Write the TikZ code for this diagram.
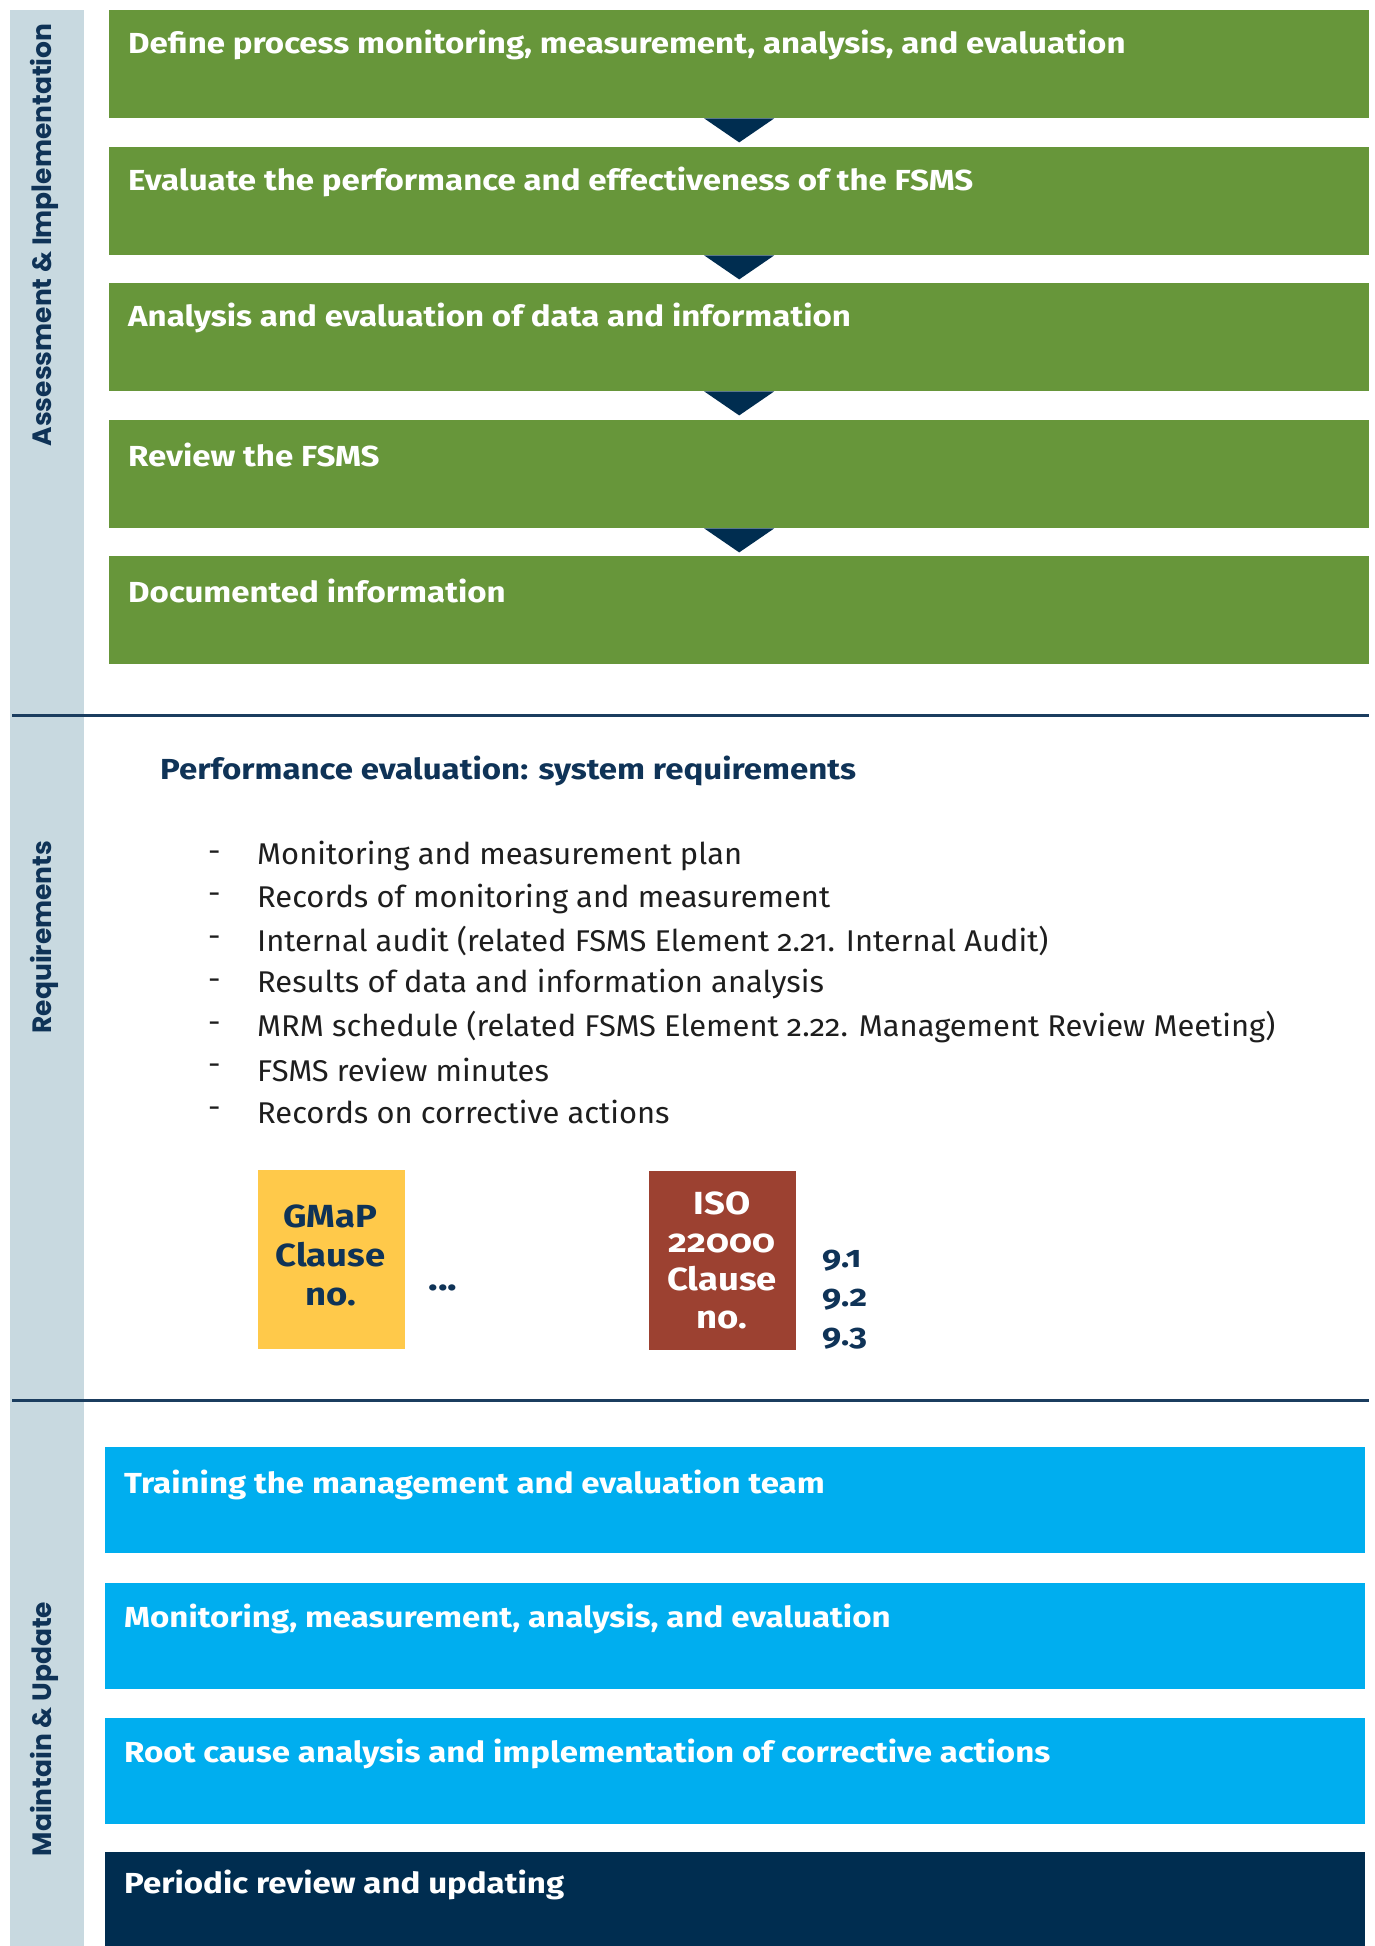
\documentclass[tikz,border=0pt]{standalone}
\usepackage{fontspec}
\setmainfont{Fira Sans}[Numbers=OldStyle]
\newfontfamily\wideb{Fira Sans}[Numbers=OldStyle,FakeStretch=1.14]
\newfontfamily\listf{Fira Sans}[Numbers=OldStyle,FakeStretch=1.03]
\newfontfamily\popp{Poppins}
\usetikzlibrary{calc}
\definecolor{sidebarc}{HTML}{C8D9E0}
\definecolor{greenc}{HTML}{67963A}
\definecolor{navyc}{HTML}{002D50}
\definecolor{titlec}{HTML}{0F3357}
\definecolor{bluec}{HTML}{00AEEF}
\definecolor{yellowc}{HTML}{FFC94A}
\definecolor{brownc}{HTML}{9C4131}
\definecolor{linec}{HTML}{1B3D5F}
\definecolor{listc}{HTML}{1E1E1E}
\begin{document}
\begin{tikzpicture}[x=1pt,y=-1pt,
  sidelbl/.style={rotate=90,font=\popp\bfseries\fontsize{26.5}{30}\selectfont,text=titlec,inner sep=0},
  gbox/.style={anchor=north west,fill=greenc,minimum width=1260,minimum height=108,inner sep=0},
  bbox/.style={anchor=north west,fill=bluec,minimum width=1260,minimum height=106,inner sep=0},
  boxtxt/.style={anchor=west,text=white,font=\wideb\bfseries\fontsize{29}{32}\selectfont,inner sep=0},
  tri/.style={fill=navyc},
  sepline/.style={draw=linec,line width=3pt},
  listtxt/.style={anchor=west,text=listc,font=\listf\fontsize{30}{33}\selectfont,inner sep=0},
  clausebox/.style={minimum width=147,minimum height=179,inner sep=0},
  clausetxt/.style={inner sep=0,align=center,font=\wideb\bfseries\fontsize{32}{39}\selectfont}
]
\useasboundingbox (0,0) rectangle (1375,1946);
\fill[white] (0,0) rectangle (1375,1946);
% sidebar
\node[anchor=north west,fill=sidebarc,minimum width=74,minimum height=1936,inner sep=0] (side) at (10,10) {};
\node[sidelbl] (l1) at (44,235) {Assessment \& Implementation};
\node[sidelbl] (l2) at (44,937) {Requirements};
\node[sidelbl] (l3) at (44,1729) {Maintain \& Update};
% green boxes
\node[gbox] (g1) at (109,10) {};
\node[gbox] (g2) at (109,147) {};
\node[gbox] (g3) at (109,283) {};
\node[gbox] (g4) at (109,420) {};
\node[gbox] (g5) at (109,556) {};
\node[boxtxt] (t1) at ($(g1.north west)+(19,35)$) {Define process monitoring, measurement, analysis, and evaluation};
\node[boxtxt] (t2) at ($(g2.north west)+(19,35)$) {Evaluate the performance and effectiveness of the FSMS};
\node[boxtxt] (t3) at ($(g3.north west)+(19,35)$) {Analysis and evaluation of data and information};
\node[boxtxt] (t4) at ($(g4.north west)+(19,35)$) {Review the FSMS};
\node[boxtxt] (t5) at ($(g5.north west)+(19,35)$) {Documented information};
\foreach \a in {g1,g2,g3,g4}{
  \fill[tri] ($(\a.south)+(-35,0)$) -- ($(\a.south)+(35,0)$) -- ($(\a.south)+(0,24)$) -- cycle;
}
% separators
\coordinate (s1a) at (12,715);
\coordinate (s1b) at (1369,715);
\coordinate (s2a) at (12,1400);
\coordinate (s2b) at (1369,1400);
\draw[sepline] (s1a) -- (s1b);
\draw[sepline] (s2a) -- (s2b);
% requirements
\node[anchor=west,text=titlec,font=\wideb\bfseries\fontsize{29}{32}\selectfont,inner sep=0] (title) at (160,771) {Performance evaluation: system requirements};
\foreach \t [count=\i from 0] in {Monitoring and measurement plan,
  Records of monitoring and measurement,
  Internal audit (related FSMS Element 2.21. Internal Audit),
  Results of data and information analysis,
  MRM schedule (related FSMS Element 2.22. Management Review Meeting),
  FSMS review minutes,
  Records on corrective actions}{
  \node[listtxt] (d\i) at (208,856+42.7*\i) {-};
  \node[listtxt] (r\i) at (257,856+42.7*\i) {\t};
}
\node[clausebox,fill=yellowc] (gmap) at (331.5,1259.5) {};
\node[clausetxt,text=titlec] (gmapt) at ($(gmap.center)+(-1,-4)$) {GMaP\\Clause\\no.};
\node[anchor=base,text=titlec,font=\wideb\bfseries\fontsize{35}{36}\selectfont,inner sep=0] (dots) at (443,1290) {...};
\node[clausebox,fill=brownc] (iso) at (722,1260) {};
\node[clausetxt,text=white,font=\wideb\bfseries\fontsize{32}{38}\selectfont] (isot) at ($(iso.center)+(0,0)$) {ISO\\22000\\Clause\\no.};
\node[anchor=west,align=left,text=titlec,font=\wideb\bfseries\fontsize{30}{39}\selectfont,inner sep=0] (nums) at (822,1300) {9.1\\9.2\\9.3};
% blue boxes
\node[bbox] (b1) at (105,1447) {};
\node[bbox] (b2) at (105,1583) {};
\node[bbox] (b3) at (105,1718) {};
\node[anchor=north west,fill=navyc,minimum width=1260,minimum height=94,inner sep=0] (b4) at (105,1852) {};
\node[boxtxt] (u1) at ($(b1.north west)+(19,38)$) {Training the management and evaluation team};
\node[boxtxt] (u2) at ($(b2.north west)+(19,36)$) {Monitoring, measurement, analysis, and evaluation};
\node[boxtxt] (u3) at ($(b3.north west)+(19,36)$) {Root cause analysis and implementation of corrective actions};
\node[boxtxt] (u4) at ($(b4.north west)+(19,33)$) {Periodic review and updating};
\end{tikzpicture}
\end{document}
